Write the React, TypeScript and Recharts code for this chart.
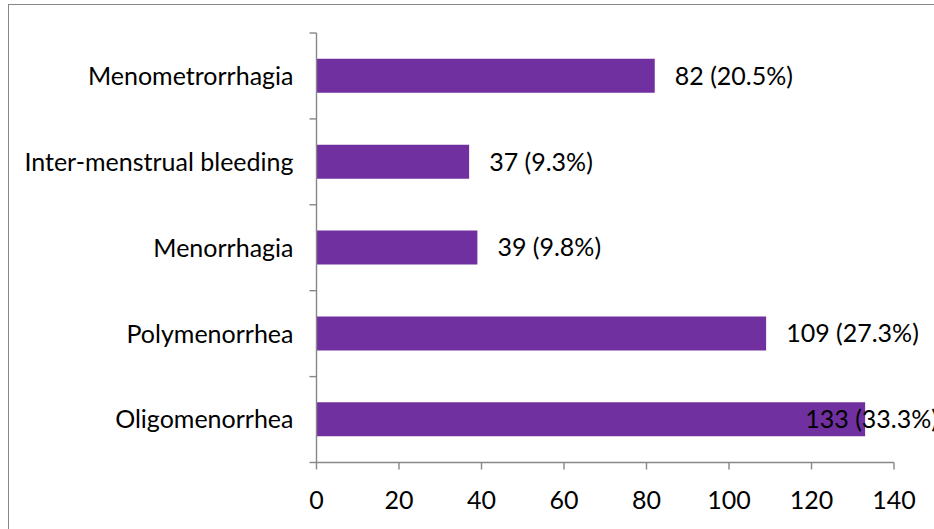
import React from "react";
import { BarChart, Bar, XAxis, YAxis, LabelList } from "recharts";

const categories = [
  "Menometrorrhagia",
  "Inter-menstrual bleeding",
  "Menorrhagia",
  "Polymenorrhea",
  "Oligomenorrhea",
];
const counts = [82, 37, 39, 109, 133];
const percents = ["20.5", "9.3", "9.8", "27.3", "33.3"];
const xTicks = [0, 20, 40, 60, 80, 100, 120, 140];

const data = categories.map((name, i) => ({ name, value: counts[i], pct: percents[i] }));

const W = 934;
const H = 529;
const FONT = "Lato, 'Open Sans', sans-serif";
const FS = 25;
const AXIS = "#878787";
const TICK_SIZE = 7;
const Y_TICK_MARGIN = 16;

const YTick = (props: any) => {
  const { x, y, payload, index, visibleTicksCount } = props;
  const off = payload && typeof payload.offset === "number" ? payload.offset : 0;
  const ax = x + Y_TICK_MARGIN + TICK_SIZE;
  const isLast = index === (visibleTicksCount ?? categories.length) - 1;
  return (
    <g>
      <line x1={ax - TICK_SIZE} x2={ax} y1={y - off} y2={y - off} stroke={AXIS} strokeWidth={1.4} />
      {isLast && (
        <line x1={ax - TICK_SIZE} x2={ax} y1={y + off} y2={y + off} stroke={AXIS} strokeWidth={1.4} />
      )}
      <text x={x} y={y} dy="0.355em" textAnchor="end" fill="#000" fontSize={FS} fontFamily={FONT}>
        {payload.value}
      </text>
    </g>
  );
};

const ValueLabel = (props: any) => {
  const { x, y, width, height, value, index } = props;
  const text = `${value} (${percents[index]}%)`;
  const start = x + width + 20;
  const est = text.length * FS * 0.5;
  const limit = W + 4;
  const clamp = start + est > limit;
  return (
    <text
      x={clamp ? limit : start}
      y={y + height / 2}
      dy="0.355em"
      textAnchor={clamp ? "end" : "start"}
      fill="#000"
      fontSize={FS}
      fontFamily={FONT}
    >
      {text}
    </text>
  );
};

export default function App() {
  return (
    <div
      style={{
        position: "fixed",
        left: 0,
        top: 0,
        width: W,
        height: H,
        overflow: "hidden",
        background: "#fff",
      }}
    >
      <div
        style={{
          position: "absolute",
          left: 7.5,
          top: 4.25,
          width: 2000,
          height: 2000,
          borderLeft: `1.5px solid ${AXIS}`,
          borderTop: `1.5px solid ${AXIS}`,
        }}
      />
      <div style={{ position: "absolute", left: 0, top: 0 }}>
        <BarChart
          width={W}
          height={H}
          data={data}
          layout="vertical"
          margin={{ top: 33, right: 40, bottom: 0, left: 0 }}
          barCategoryGap="30%"
        >
          <XAxis
            type="number"
            domain={[0, 140]}
            ticks={xTicks}
            interval={0}
            height={66.5}
            stroke={AXIS}
            strokeWidth={1.4}
            tickSize={TICK_SIZE}
            tickMargin={22}
            tick={{ fill: "#000", fontSize: FS, fontFamily: FONT }}
          />
          <YAxis
            type="category"
            dataKey="name"
            width={316.5}
            interval={0}
            stroke={AXIS}
            strokeWidth={1.4}
            tickLine={false}
            tickSize={TICK_SIZE}
            tickMargin={Y_TICK_MARGIN}
            tick={<YTick />}
          />
          <Bar dataKey="value" fill="#7030A0" isAnimationActive={false}>
            <LabelList dataKey="value" content={<ValueLabel />} />
          </Bar>
        </BarChart>
      </div>
    </div>
  );
}
